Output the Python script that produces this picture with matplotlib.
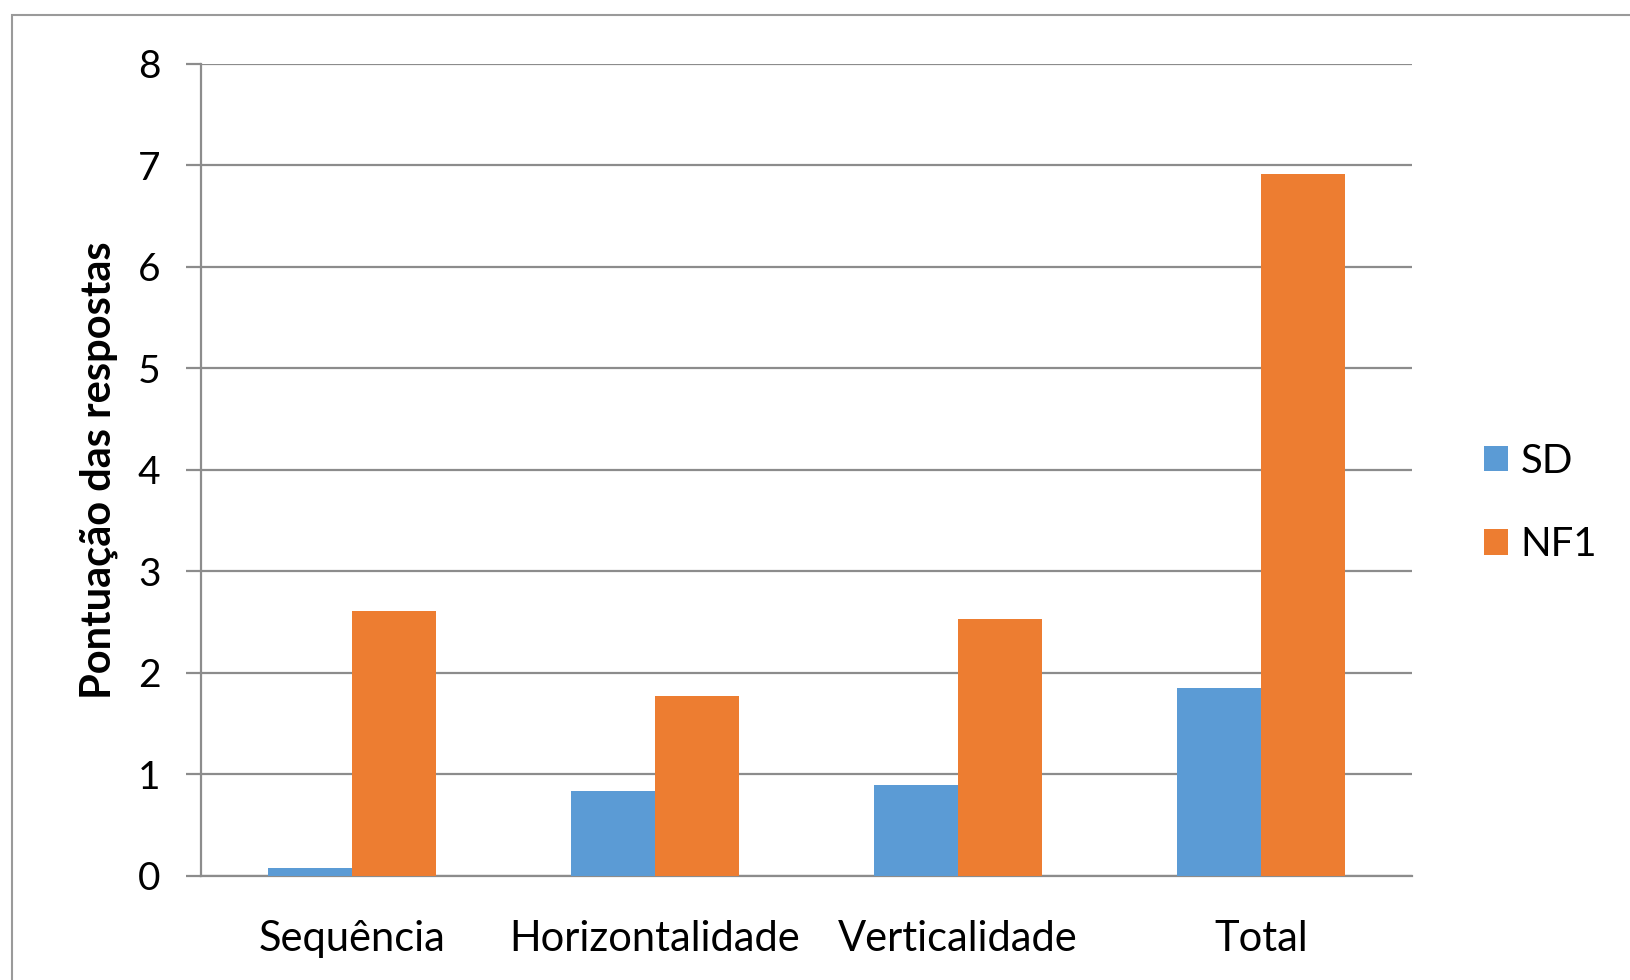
import matplotlib
matplotlib.use("Agg")
import matplotlib.pyplot as plt
import numpy as np
from matplotlib.patches import Rectangle, Patch

categories = ["Sequência", "Horizontalidade", "Verticalidade", "Total"]
sd_values = [0.08, 0.84, 0.90, 1.85]
nf1_values = [2.61, 1.77, 2.53, 6.91]
series_names = ["SD", "NF1"]
y_ticks = [0, 1, 2, 3, 4, 5, 6, 7, 8]

BLUE = "#5B9BD5"
ORANGE = "#ED7D31"
GRID = "#8C8C8C"

plt.rcParams["font.family"] = ["Lato", "DejaVu Sans"]

W, H = 1631, 980
fig = plt.figure(figsize=(W / 100, H / 100), dpi=100)
fig.patch.set_facecolor("white")

# outer chart frame
fig.add_artist(Rectangle((12 / W, -0.05), 1.2, 1 - 15 / H + 0.05,
                         transform=fig.transFigure, fill=False,
                         edgecolor="#9A9A9A", linewidth=1.5, clip_on=False))

ax = fig.add_axes([200.7 / W, 1 - 876 / H, (1412.5 - 200.7) / W, (876 - 63.5) / H])

x = np.arange(len(categories))
bw = 0.278
ax.bar(x - bw / 2, sd_values, width=bw, color=BLUE, label=series_names[0], zorder=3)
ax.bar(x + bw / 2, nf1_values, width=bw, color=ORANGE, label=series_names[1], zorder=3)

ax.set_xlim(-0.5, len(categories) - 0.5)
ax.set_ylim(0, 8)
ax.set_yticks(y_ticks)
ax.set_yticklabels([str(t) for t in y_ticks], fontsize=28)
ax.set_xticks(x)
ax.set_xticklabels(categories, fontsize=30)

ax.yaxis.grid(True, color=GRID, linewidth=1.6, zorder=0)
ax.set_axisbelow(True)
for s in ["top", "right"]:
    ax.spines[s].set_visible(False)
ax.spines["left"].set_color(GRID)
ax.spines["left"].set_linewidth(1.6)
ax.spines["bottom"].set_color(GRID)
ax.spines["bottom"].set_linewidth(1.6)

ax.tick_params(axis="y", direction="out", length=11, width=1.6, color=GRID, pad=18)
ax.tick_params(axis="x", length=0, pad=32)

ax.set_ylabel("Pontuação das respostas", fontsize=30, fontweight="bold", labelpad=14)

handles = [Patch(facecolor=BLUE, label=series_names[0]),
           Patch(facecolor=ORANGE, label=series_names[1])]
fig.legend(handles=handles, loc="center left",
           bbox_to_anchor=(1448 / W, 1 - 503 / H), frameon=False,
           fontsize=29, handlelength=0.6, handleheight=0.6,
           handletextpad=0.3, labelspacing=1.15)

fig.savefig("out.png", dpi=100)
